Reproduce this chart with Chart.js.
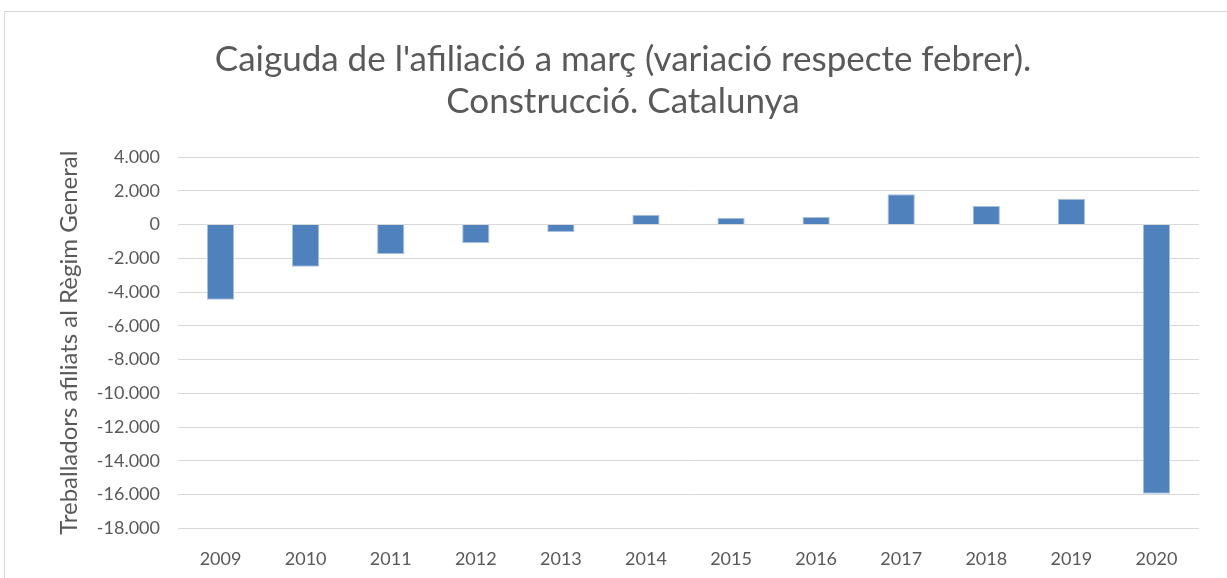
<html lang="ca">
<head>
    <meta charset="UTF-8">
    <script src="https://cdn.jsdelivr.net/npm/chart.js@4.4.0/dist/chart.umd.min.js"></script>
    <title>Caiguda de l'afiliació a març</title>
    <style>
        body { margin: 0; overflow: hidden; background: #fff; }
        #box { position: absolute; left: 4px; top: 11px; width: 1236px; height: 600px;
               border: 1px solid #d9d9d9; }
    </style>
</head>
<body>
    <div id="box"><canvas id="chart" width="1236" height="574"></canvas></div>
</body>
</html>

<script>
const years = ['2009', '2010', '2011', '2012', '2013', '2014', '2015', '2016', '2017', '2018', '2019', '2020'];
const variacio = [-4460, -2500, -1740, -1090, -450, 580, 400, 440, 1790, 1100, 1530, -15950];
const titleLines = ["Caiguda de l'afiliació a març (variació respecte febrer).", 'Construcció. Catalunya'];
const yTitle = 'Treballadors afiliats al Règim General';

const grey = '#595959';
const fontName = 'Lato, "Open Sans", sans-serif';

var ctx = document.getElementById('chart').getContext('2d');
var myChart = new Chart(ctx, {
    type: 'bar',
    data: {
        labels: years,
        datasets: [{
            data: variacio,
            backgroundColor: '#4f81bd',
            borderColor: '#a9c1df',
            borderWidth: 1,
            categoryPercentage: 1,
            barPercentage: 0.32
        }]
    },
    options: {
        responsive: false,
        animation: false,
        layout: { padding: { left: 0, right: 0, bottom: 4 } },
        plugins: {
            legend: { display: false },
            tooltip: { enabled: false },
            title: {
                display: true,
                text: titleLines,
                color: grey,
                font: { family: fontName, size: 35, weight: 'normal', lineHeight: 1.2 },
                padding: { top: 27, bottom: 34 }
            }
        },
        scales: {
            x: {
                grid: { display: false },
                border: { display: false },
                ticks: { color: grey, font: { family: fontName, size: 18 }, padding: 12 }
            },
            y: {
                min: -18000,
                max: 4000,
                afterFit: function(s) { s.width = 173; },
                grid: { color: '#d9d9d9', lineWidth: 1, drawTicks: false },
                border: { display: false },
                ticks: {
                    stepSize: 2000,
                    color: grey,
                    padding: 18,
                    font: { family: fontName, size: 18 },
                    callback: function(value) {
                        return value.toLocaleString('de-DE');
                    }
                },
                title: {
                    display: true,
                    text: yTitle,
                    color: grey,
                    font: { family: fontName, size: 24 },
                    padding: { top: 50, bottom: 0 }
                }
            },
            // empty right-hand axis, only keeps space so the title stays centred on the whole box
            y2: {
                position: 'right',
                display: true,
                afterFit: function(s) { s.width = 42; },
                grid: { display: false },
                border: { display: false },
                ticks: { display: false }
            }
        }
    }
});
</script>
